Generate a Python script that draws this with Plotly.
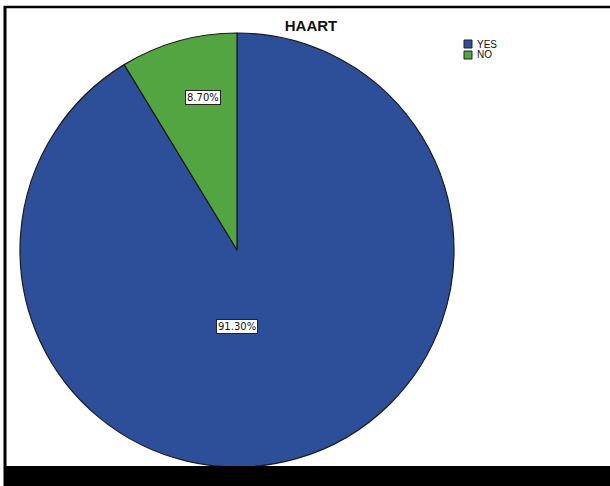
import plotly.graph_objects as go

# HAART status distribution
categories = ["YES", "NO"]
percent = [91.30, 8.70]
slice_colors = ["#2D4E98", "#52A540"]

W, H = 610, 486
cx, cy, r = 237, 250, 217  # pie centre / radius in pixels

fig = go.Figure(
    go.Pie(
        labels=categories,
        values=percent,
        sort=False,
        direction="clockwise",
        rotation=0,
        marker=dict(colors=slice_colors, line=dict(color="#1a1a1a", width=1.2)),
        textinfo="none",
        hoverinfo="label+percent",
        showlegend=False,
        domain=dict(x=[(cx - r) / W, (cx + r) / W],
                    y=[(H - cy - r) / H, (H - cy + r) / H]),
    )
)

FONT = "Liberation Sans, Arial"

# boxed percentage labels
label_pos = {"YES": (237, 326), "NO": (203, 97)}
for cat, val in zip(categories, percent):
    px, py = label_pos[cat]
    fig.add_annotation(
        x=px / W, y=1 - py / H, xref="paper", yref="paper",
        xanchor="center", yanchor="middle",
        text=f"{val:.2f}%", showarrow=False,
        font=dict(family="DejaVu Sans", size=10, color="#111111"),
        bgcolor="white", bordercolor="#222222", borderwidth=1, borderpad=1,
    )

# compact legend: small swatches with labels
lx, ly, sw, step = 464, 40, 8, 11
for i, (cat, col) in enumerate(zip(categories, slice_colors)):
    top = ly + i * step
    fig.add_shape(type="rect", xref="paper", yref="paper",
                  x0=lx / W, x1=(lx + sw) / W,
                  y0=1 - (top + sw) / H, y1=1 - top / H,
                  fillcolor=col, line=dict(color="#222222", width=1))
    fig.add_annotation(x=(lx + sw + 3) / W, y=1 - (top + sw / 2) / H,
                       xref="paper", yref="paper", xanchor="left", yanchor="middle",
                       text=cat, showarrow=False,
                       font=dict(family=FONT, size=10, color="#111111"))

# frame: top and left rules, black strip at the bottom
fig.add_shape(type="line", xref="paper", yref="paper",
              x0=4 / W, x1=1, y0=1 - 7 / H, y1=1 - 7 / H,
              line=dict(color="black", width=2.5))
fig.add_shape(type="line", xref="paper", yref="paper",
              x0=5 / W, x1=5 / W, y0=1 - 6 / H, y1=0,
              line=dict(color="black", width=3))
fig.add_shape(type="rect", xref="paper", yref="paper",
              x0=4 / W, x1=1, y0=0, y1=1 - 466 / H,
              line=dict(width=0), fillcolor="black", layer="above")

fig.update_layout(
    width=W, height=H,
    margin=dict(l=0, r=0, t=0, b=0),
    paper_bgcolor="white", plot_bgcolor="white",
    title=dict(text="<b>HAART</b>", x=311 / W, xanchor="center",
               y=1 - 26 / H, yanchor="middle",
               font=dict(family=FONT, size=15, color="#111111")),
    showlegend=False,
)

fig.write_html("out.html")
